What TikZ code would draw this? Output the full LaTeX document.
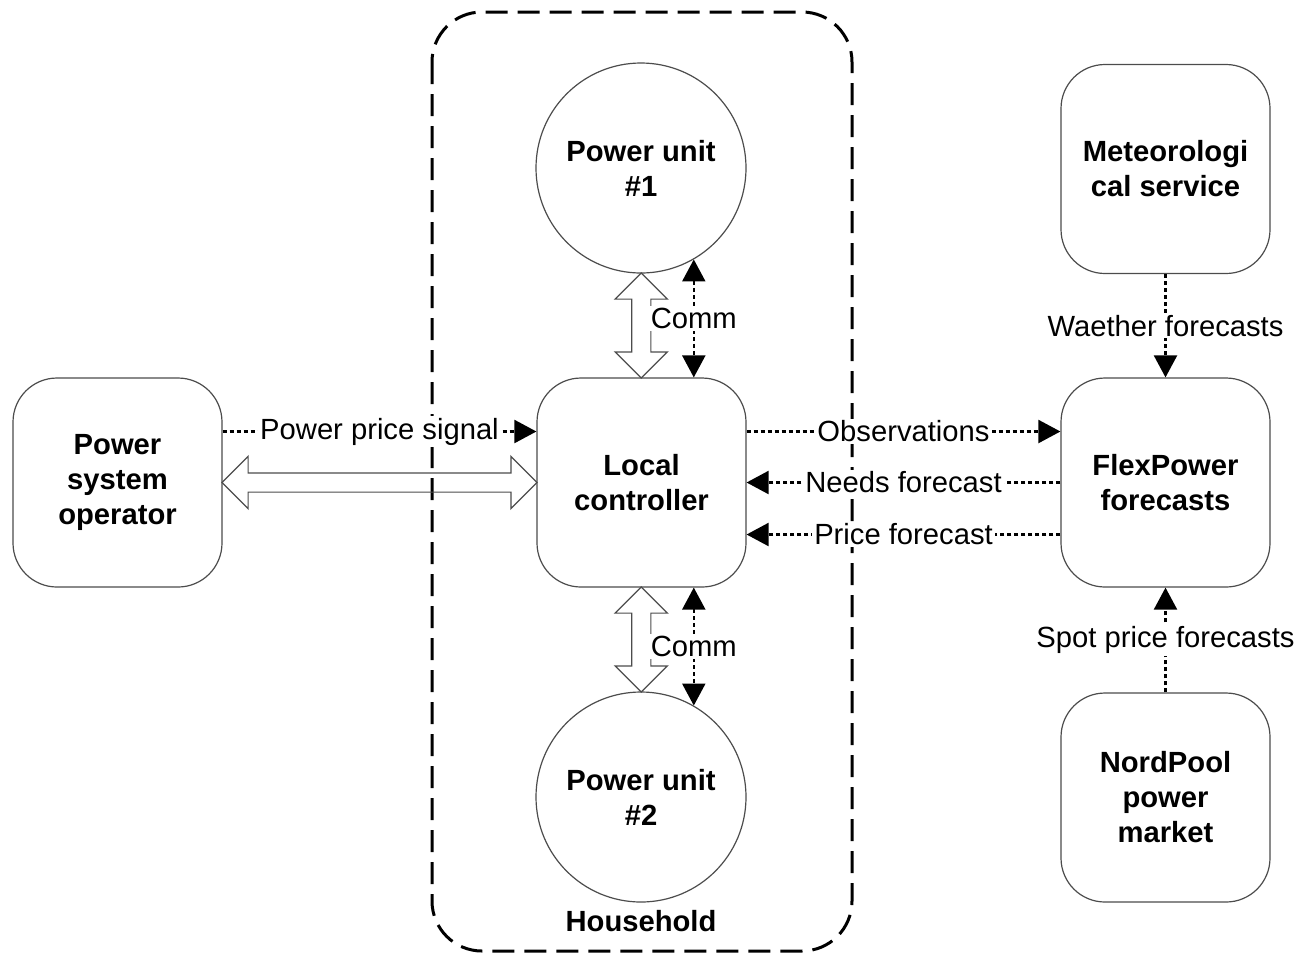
\documentclass[tikz,border=0pt]{standalone}
\usepackage{fontspec}
\setmainfont{Liberation Sans}
\usetikzlibrary{arrows.meta,shapes.arrows}

\tikzset{>={Triangle[length=11pt,width=11.5pt]}}

\begin{document}
\begin{tikzpicture}[x=0.5pt,y=-0.5pt,
	every node/.style={font=\fontsize{14.6}{17.5}\selectfont},
	box/.style={draw=black!70,line width=0.6pt,rounded corners=22pt,minimum width=104.5pt,minimum height=104.5pt,align=center,font=\fontsize{14.6}{17.5}\selectfont\bfseries},
	unit/.style={draw=black!70,line width=0.6pt,circle,minimum size=105pt,inner sep=0pt,align=center,font=\fontsize{14.6}{17.5}\selectfont\bfseries},
	house/.style={line width=1.5pt,dash pattern=on 11pt off 5pt,rounded corners=25pt},
	info/.style={line width=1.1pt,dash pattern=on 2pt off 1.5pt,->},
	lbl/.style={fill=white,inner xsep=1pt,inner ysep=1pt},
	hollow/.style={double arrow,draw=black!70,line width=0.6pt,minimum width=0pt,double arrow head extend=8.25pt,double arrow tip angle=90,inner xsep=0pt,inner ysep=4.5pt}]
	
	\useasboundingbox (0,0) rectangle (1301,955);
	
	\draw[house](432,12) rectangle (852,951);
	\node (hhlabel) at (641,921){\bfseries Household};
	
	\node[box] (pso) at (117.5,482.5){Power\\system\\operator};
	\node[box] (lc) at (641.5,482.5){Local\\controller};
	\node[box] (fp) at (1165.5,482.5){FlexPower\\forecasts};
	\node[box] (met) at (1165.5,169){Meteorologi\\cal service};
	\node[box] (nord) at (1165.5,797.5){NordPool\\power\\market};
	\node[unit] (u1) at (641,168){Power unit\\\#1};
	\node[unit] (u2) at (641,797){Power unit\\\#2};
	
	
	\path (pso.east) -- (lc.west) node[midway,hollow,minimum height=157.5pt] (flow){};
	\path (u1.south) -- (lc.north) node[midway,hollow,rotate=90,minimum height=52.5pt] (flowa){};
	\path (lc.south) -- (u2.north) node[midway,hollow,rotate=90,minimum height=52.5pt] (flowb){};
	
	
	\draw[info]([yshift=25.5pt]pso.east) -- node[lbl] (sig){Power price signal} ([yshift=25.5pt]lc.west);
	\draw[info]([yshift=25.5pt]lc.east) -- node[lbl] (obs){Observations} ([yshift=25.5pt]fp.west);
	\draw[info](fp.west) -- node[lbl] (needs){Needs forecast} (lc.east);
	\draw[info]([yshift=-26pt]fp.west) -- node[lbl] (price){Price forecast} ([yshift=-26pt]lc.east);
	\draw[info](met.south) -- node[lbl] (wx){Waether forecasts} (fp.north);
	\draw[info](nord.north) -- node[lbl] (spot){Spot price forecasts} (fp.south);
	\draw[info,<->](u1.-60) -- node[lbl] (comma){Comm} (u1.-60 |- lc.north);
	\draw[info,<->](u2.60 |- lc.south) -- node[lbl] (commb){Comm} (u2.60);
\end{tikzpicture}
\end{document}
